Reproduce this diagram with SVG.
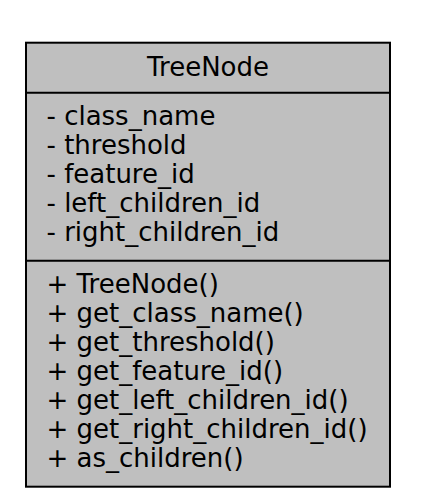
<svg xmlns="http://www.w3.org/2000/svg" width="430" height="500" viewBox="0 0 430 500">
<style>
.box{fill:#bfbfbf;stroke:#000;stroke-width:2}
.ln{stroke:#000;stroke-width:2;fill:none}
text{font-family:"DejaVu Sans",sans-serif;font-size:26px;fill:#000}
</style>
<rect width="430" height="500" fill="#fff"/>
<g id="TreeNode">
<rect class="box" x="26" y="42.7" width="364" height="444"/>
<line class="ln" x1="26" y1="92.7" x2="390" y2="92.7"/>
<line class="ln" x1="26" y1="260.7" x2="390" y2="260.7"/>
<g transform="scale(1,1.054)">
<text x="208" y="72.1" text-anchor="middle">TreeNode</text>
<text x="46.5" y="118.6">- class_name</text>
<text x="46.5" y="146.2">- threshold</text>
<text x="46.5" y="173.8">- feature_id</text>
<text x="46.5" y="201.4">- left_children_id</text>
<text x="46.5" y="229.0">- right_children_id</text>
<text x="46.5" y="277.7">+ TreeNode()</text>
<text x="46.5" y="305.3">+ get_class_name()</text>
<text x="46.5" y="332.9">+ get_threshold()</text>
<text x="46.5" y="360.5">+ get_feature_id()</text>
<text x="46.5" y="388.1">+ get_left_children_id()</text>
<text x="46.5" y="415.7">+ get_right_children_id()</text>
<text x="46.5" y="443.3">+ as_children()</text>
</g>
</g>
<g id="connectors"/>
</svg>
